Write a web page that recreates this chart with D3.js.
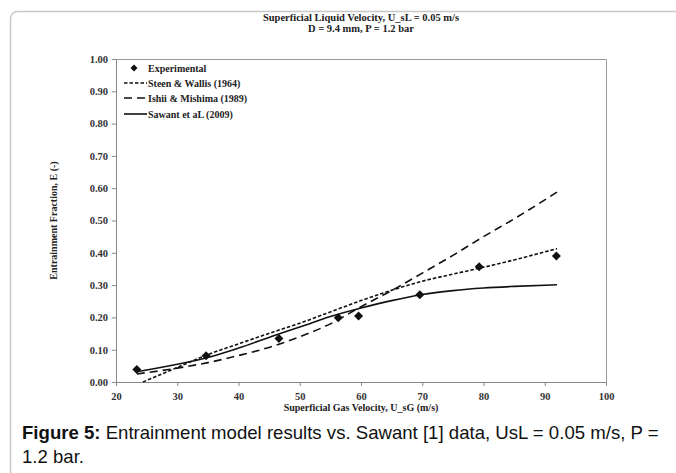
<!DOCTYPE html>
<html><head><meta charset="utf-8">
<script src="https://cdn.jsdelivr.net/npm/d3@7"></script>
<style>body{margin:0;background:#fff;}svg{display:block;}</style>
</head><body>
<svg id="c" width="676" height="473"></svg>
<script>
const titleLines = ["Superficial Liquid Velocity, U_sL = 0.05 m/s", "D = 9.4 mm, P = 1.2 bar"];
const xLabel = "Superficial Gas Velocity, U_sG (m/s)";
const yLabel = "Entrainment Fraction, E (-)";
const xTicks = [20,30,40,50,60,70,80,90,100];
const yTicks = [0,0.1,0.2,0.3,0.4,0.5,0.6,0.7,0.8,0.9,1.0];

const expX = [23.4, 34.7, 46.6, 56.3, 59.6, 69.6, 79.3, 91.9];
const expY = [0.039, 0.081, 0.135, 0.199, 0.204, 0.270, 0.357, 0.390];

const steenX = [24.4, 30, 35, 40, 46, 50, 55, 60, 65, 70, 75, 80, 85, 92];
const steenY = [0.0, 0.045, 0.085, 0.118, 0.157, 0.182, 0.217, 0.252, 0.284, 0.312, 0.334, 0.355, 0.378, 0.413];

const ishiiX = [23.4, 30, 35, 40, 46, 50, 55, 60, 65, 70, 75, 80, 85, 92];
const ishiiY = [0.025, 0.043, 0.06, 0.082, 0.113, 0.14, 0.18, 0.233, 0.283, 0.337, 0.392, 0.45, 0.505, 0.588];

const sawantX = [23.4, 30, 35, 40, 46, 50, 55, 60, 65, 70, 75, 80, 85, 92];
const sawantY = [0.032, 0.055, 0.076, 0.105, 0.145, 0.17, 0.203, 0.229, 0.252, 0.271, 0.283, 0.291, 0.296, 0.301];

const legendNames = ["Experimental", "Steen & Wallis (1964)", "Ishii & Mishima (1989)", "Sawant et aL (2009)"];

const svg = d3.select("#c");
svg.append("rect").attr("x",10.5).attr("y",11.5).attr("width",720).attr("height",520).attr("rx",7)
  .attr("fill","none").attr("stroke","#c8c8c8").attr("stroke-width",1.5);

const m = {l:116, r:606, t:59, b:382};
const x = d3.scaleLinear().domain([20,100]).range([m.l, m.r]);
const y = d3.scaleLinear().domain([0,1]).range([m.b, m.t]);
const serif = "'Liberation Serif','DejaVu Serif',serif";
const fs = "10px";

svg.append("path").attr("d",`M${m.l},${m.t+0.5}H${m.r+0.5}V${m.b}`).attr("fill","none").attr("stroke","#999").attr("stroke-width",1);

const xa = svg.append("g").attr("transform",`translate(0,${m.b})`)
  .call(d3.axisBottom(x).tickValues(xTicks).tickFormat(d3.format("d")).tickSize(4).tickSizeOuter(0));
const ya = svg.append("g").attr("transform",`translate(${m.l},0)`)
  .call(d3.axisLeft(y).tickValues(yTicks).tickFormat(d3.format(".2f")).tickSize(4).tickSizeOuter(0));
[xa,ya].forEach(a=>{
  a.select(".domain").attr("stroke","#888");
  a.selectAll(".tick line").attr("stroke","#888");
  a.selectAll("text").attr("font-family",serif).attr("font-weight","bold").attr("font-size","10.5px").attr("fill","#333");
});
xa.selectAll("text").attr("dy","1.0em");
ya.selectAll("text").attr("x",-8);

titleLines.forEach((t,i)=>{
  svg.append("text").attr("x",(m.l+m.r)/2).attr("y",21+i*10.5).attr("text-anchor","middle")
    .attr("font-family",serif).attr("font-weight","bold").attr("font-size","10.5px").attr("fill","#222").text(t);
});
svg.append("text").attr("x",(m.l+m.r)/2).attr("y",411).attr("text-anchor","middle")
  .attr("font-family",serif).attr("font-weight","bold").attr("font-size",fs).attr("fill","#222").text(xLabel);
svg.append("text").attr("transform",`translate(57,${(m.t+m.b)/2}) rotate(-90)`).attr("text-anchor","middle")
  .attr("font-family",serif).attr("font-weight","bold").attr("font-size",fs).attr("fill","#222").text(yLabel);

const line = d3.line().x(d=>x(d[0])).y(d=>y(d[1])).curve(d3.curveMonotoneX);
const series = [
  {xs:steenX, ys:steenY, dash:"3.5,2"},
  {xs:ishiiX, ys:ishiiY, dash:"8,5"},
  {xs:sawantX, ys:sawantY, dash:null}
];
series.forEach(s=>{
  svg.append("path").datum(s.xs.map((v,i)=>[v,s.ys[i]])).attr("d",line)
    .attr("fill","none").attr("stroke","#111").attr("stroke-width",1.6).attr("stroke-dasharray",s.dash);
});
const diamond = "M0,-4.5L4.5,0L0,4.5L-4.5,0Z";
svg.append("g").selectAll("path").data(expX.map((v,i)=>[v,expY[i]])).join("path")
  .attr("d",diamond).attr("transform",d=>`translate(${x(d[0])},${y(d[1])})`).attr("fill","#111");

const lg = svg.append("g");
const ly = [68, 83, 98, 114];
lg.append("path").attr("d","M0,-3.5L3.5,0L0,3.5L-3.5,0Z").attr("transform",`translate(134,${ly[0]})`).attr("fill","#111");
series.forEach((s,i)=>{
  lg.append("line").attr("x1",124).attr("x2",147).attr("y1",ly[i+1]).attr("y2",ly[i+1])
    .attr("stroke","#111").attr("stroke-width",1.6).attr("stroke-dasharray",s.dash);
});
legendNames.forEach((n,i)=>{
  lg.append("text").attr("x",148).attr("y",ly[i]+3.5).attr("font-family",serif).attr("font-weight","bold")
    .attr("font-size",fs).attr("fill","#222").text(n);
});

const sans = "'Liberation Sans',Arial,sans-serif";
const cap = svg.append("text").attr("x",22).attr("y",439).attr("font-family",sans)
  .attr("font-size","18.6px").attr("fill","#111");
cap.append("tspan").attr("font-weight","bold").text("Figure 5:");
cap.append("tspan").text(" Entrainment model results vs. Sawant [1] data, UsL = 0.05 m/s, P =");
svg.append("text").attr("x",22).attr("y",463).attr("font-family",sans)
  .attr("font-size","18.6px").attr("fill","#111").text("1.2 bar.");
</script>
</body></html>
